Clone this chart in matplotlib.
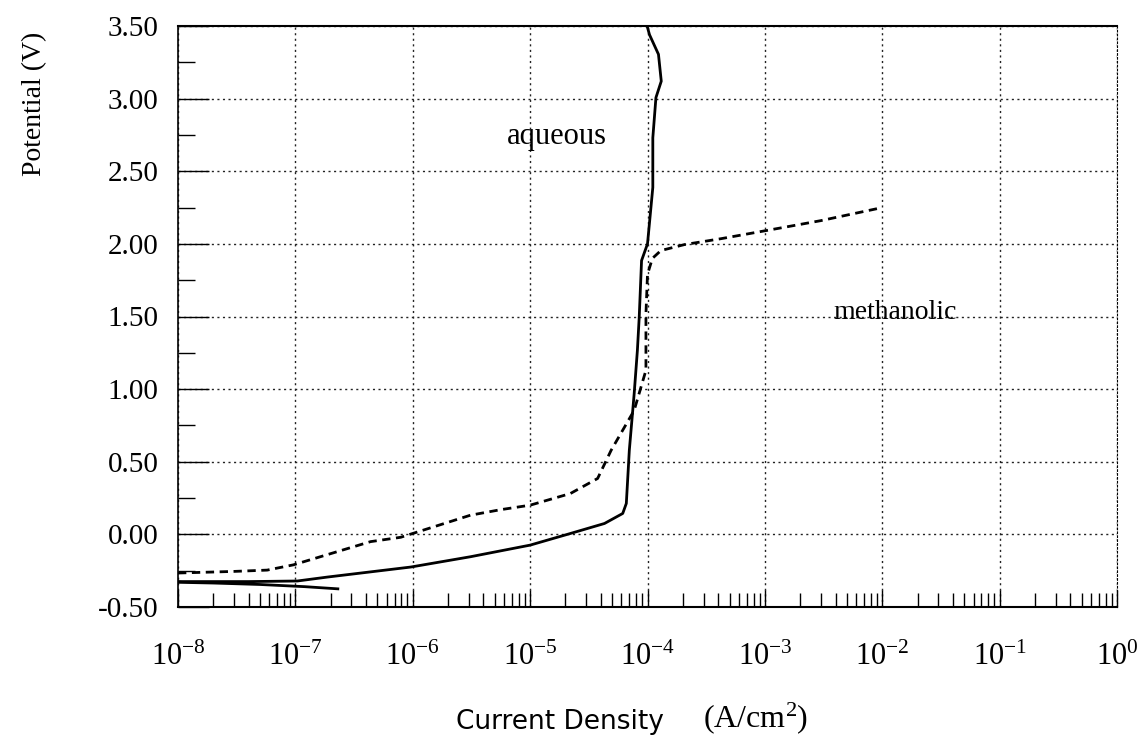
import math
import matplotlib
matplotlib.use("Agg")
import matplotlib.pyplot as plt
from matplotlib.ticker import FixedLocator, LogLocator, NullFormatter, FuncFormatter

# ---- data ----
aq_current = [2.3e-7, 1.2e-7, 5e-8, 2e-8, 1e-8, 1e-8, 4e-8, 1.04e-7, 1.87e-7, 9.6e-7,
              3.1e-6, 1.0e-5, 2.2e-5, 4.3e-5, 6.15e-5, 6.6e-5, 7.0e-5, 7.7e-5, 8.2e-5,
              8.5e-5, 8.9e-5, 1.0e-4, 1.11e-4, 1.11e-4, 1.18e-4, 1.31e-4, 1.24e-4,
              1.04e-4, 1.0e-4]
aq_potential = [-0.375, -0.36, -0.345, -0.335, -0.33, -0.325, -0.325, -0.321, -0.294, -0.225,
                -0.154, -0.074, 0.006, 0.075, 0.144, 0.213, 0.579, 0.969, 1.266,
                1.495, 1.885, 2.0, 2.389, 2.73, 3.007, 3.12, 3.305,
                3.44, 3.49]

me_current = [1e-8, 3e-8, 5.75e-8, 9.6e-8, 4.37e-7, 7.9e-7, 3.1e-6, 5.6e-6, 1e-5, 2.2e-5,
              3.76e-5, 4.9e-5, 7.7e-5, 9.7e-5, 9.7e-5, 1.0e-4, 1.1e-4, 1.3e-4, 2.06e-4,
              4.25e-4, 1e-3, 3e-3, 1e-2]
me_potential = [-0.266, -0.255, -0.246, -0.21, -0.05, -0.02, 0.132, 0.17, 0.201, 0.281,
                0.385, 0.579, 0.854, 1.13, 1.518, 1.79, 1.90, 1.954, 1.995,
                2.036, 2.09, 2.16, 2.25]

y_ticks = [-0.5, 0.0, 0.5, 1.0, 1.5, 2.0, 2.5, 3.0, 3.5]
x_ticks = [1e-8, 1e-7, 1e-6, 1e-5, 1e-4, 1e-3, 1e-2, 1e-1, 1e0]

serif = "Liberation Serif"
plt.rcParams["mathtext.fontset"] = "custom"
plt.rcParams["mathtext.rm"] = serif
plt.rcParams["mathtext.it"] = serif

fig = plt.figure(figsize=(11.47, 7.46), dpi=100)
ax = fig.add_axes([178 / 1147, 1 - 607 / 746, (1117 - 178) / 1147, (607 - 26) / 746])

ax.set_xscale("log")
ax.set_xlim(1e-8, 1e0)
ax.set_ylim(-0.5, 3.5)

ax.plot(aq_current, aq_potential, color="black", lw=2.0, solid_joinstyle="round")
ax.plot(me_current, me_potential, color="black", lw=2.0, linestyle=(0, (3, 2)))

# grid
ax.grid(True, which="major", color="#222222", linestyle=(0, (1.5, 2.5)), lw=1.0)

# ticks
ax.yaxis.set_major_locator(FixedLocator(y_ticks))
ax.yaxis.set_minor_locator(FixedLocator([v + 0.25 for v in y_ticks[:-1]]))
ax.yaxis.set_major_formatter(FuncFormatter(lambda v, p: f"{v:.2f}"))
ax.xaxis.set_major_locator(FixedLocator(x_ticks))
ax.xaxis.set_minor_locator(LogLocator(base=10, subs=range(2, 10), numticks=20))
ax.xaxis.set_minor_formatter(NullFormatter())
ax.xaxis.set_major_formatter(FuncFormatter(
    lambda v, p: r"$\mathregular{10^{%d}}$" % round(math.log10(v))))

ax.tick_params(axis="y", which="major", direction="in", length=22, width=1.0, pad=14)
ax.tick_params(axis="y", which="minor", direction="in", length=12, width=1.0)
ax.tick_params(axis="x", which="major", direction="in", length=12, width=1.0, pad=26)
ax.tick_params(axis="x", which="minor", direction="in", length=10, width=1.0)

for lab in ax.get_yticklabels():
    lab.set_fontfamily(serif)
    lab.set_fontsize(21)
for lab in ax.get_xticklabels():
    lab.set_fontfamily(serif)
    lab.set_fontsize(22)

ax.spines["right"].set_linestyle((0, (1.5, 2)))
ax.spines["left"].set_linewidth(1.2)
ax.spines["bottom"].set_linewidth(1.5)
ax.spines["top"].set_linewidth(1.5)

# labels
ax.text(1.69e-5, 2.74, "aqueous", fontfamily=serif, fontsize=22, ha="center", va="center")
ax.text(1.28e-2, 1.53, "methanolic", fontfamily=serif, fontsize=20, ha="center", va="center")

fig.text(35 / 1147, 1 - 104 / 746, "Potential (V)", rotation=90, fontfamily=serif,
         fontsize=20, ha="center", va="center")
fig.text(560 / 1147, 1 - 722 / 746, "Current Density", fontfamily="Liberation Sans Narrow",
         fontsize=19, ha="center", va="center")
fig.text(756 / 1147, 1 - 718 / 746, r"(A/cm$^{2}$)", fontfamily=serif,
         fontsize=23, ha="center", va="center")

fig.savefig("out.png", dpi=100)
